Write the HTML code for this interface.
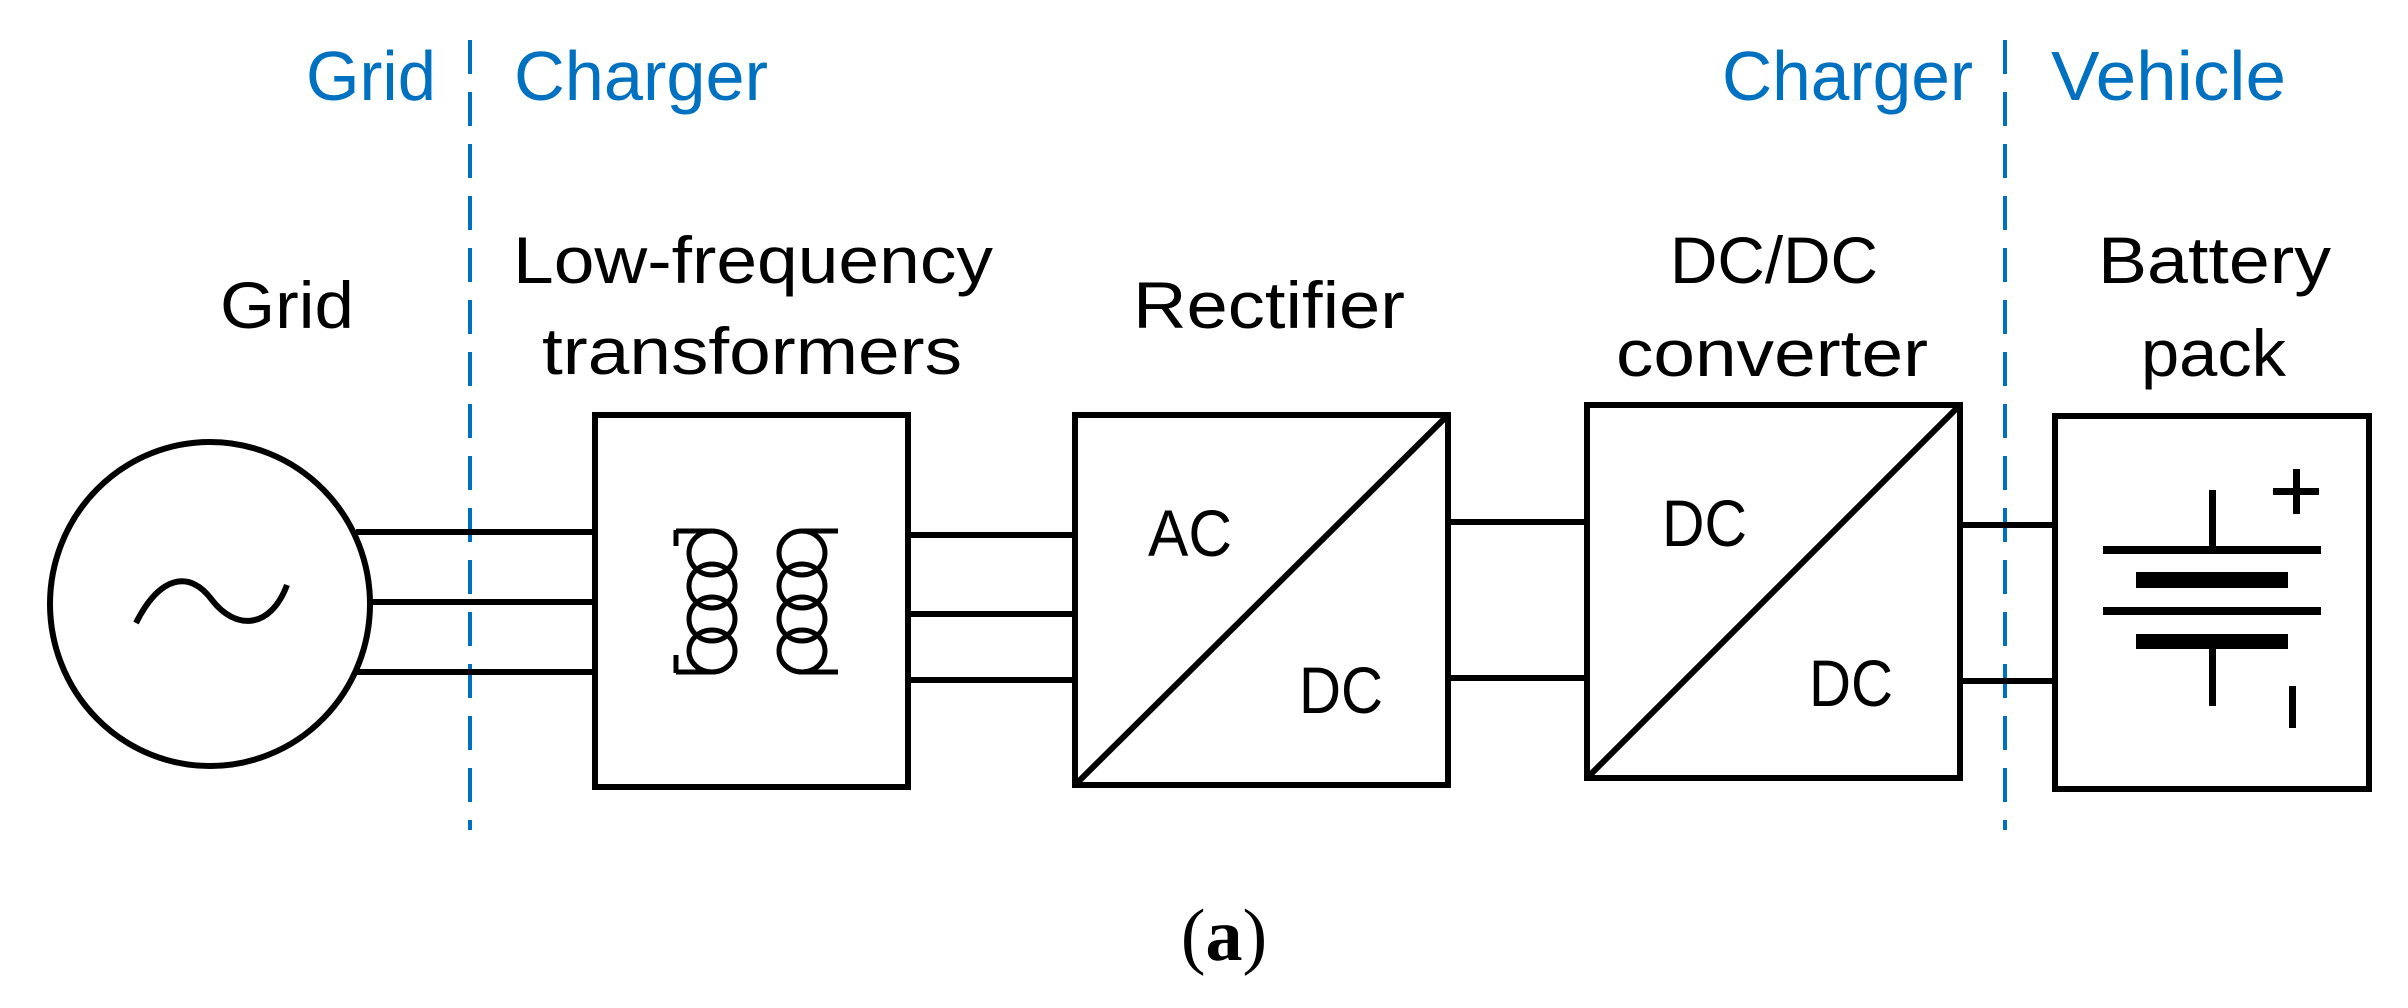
<!DOCTYPE html>
<html><head><meta charset="utf-8"><style>html,body{margin:0;padding:0;background:#fff}svg{display:block}</style></head>
<body>
<svg width="2408" height="1008" viewBox="0 0 2408 1008" xmlns="http://www.w3.org/2000/svg">
<g font-family="Liberation Sans, sans-serif" fill="#0070c0" font-size="70">
<text x="306" y="100" textLength="130" lengthAdjust="spacingAndGlyphs">Grid</text>
<text x="514" y="100" textLength="254" lengthAdjust="spacingAndGlyphs">Charger</text>
<text x="1722" y="100" textLength="251" lengthAdjust="spacingAndGlyphs">Charger</text>
<text x="2051" y="100" textLength="235" lengthAdjust="spacingAndGlyphs">Vehicle</text>
</g>
<g stroke="#0070c0" stroke-width="4" stroke-dasharray="34,18">
<line x1="470" y1="40" x2="470" y2="830"/>
<line x1="2005" y1="40" x2="2005" y2="830"/>
</g>
<g font-family="Liberation Sans, sans-serif" fill="#000" font-size="66">
<text x="220" y="328" textLength="134" lengthAdjust="spacingAndGlyphs">Grid</text>
<text x="513" y="283" textLength="480" lengthAdjust="spacingAndGlyphs">Low-frequency</text>
<text x="542" y="374" textLength="420" lengthAdjust="spacingAndGlyphs">transformers</text>
<text x="1133" y="328" textLength="272" lengthAdjust="spacingAndGlyphs">Rectifier</text>
<text x="1670" y="283" textLength="208" lengthAdjust="spacingAndGlyphs">DC/DC</text>
<text x="1616" y="376" textLength="312" lengthAdjust="spacingAndGlyphs">converter</text>
<text x="2098" y="283" textLength="233" lengthAdjust="spacingAndGlyphs">Battery</text>
<text x="2141" y="376" textLength="145" lengthAdjust="spacingAndGlyphs">pack</text>
<text x="1148" y="556" textLength="84" lengthAdjust="spacingAndGlyphs">AC</text>
<text x="1299" y="713" textLength="84" lengthAdjust="spacingAndGlyphs">DC</text>
<text x="1662" y="546" textLength="85" lengthAdjust="spacingAndGlyphs">DC</text>
<text x="1809" y="706" textLength="84" lengthAdjust="spacingAndGlyphs">DC</text>
</g>
<g stroke="#000" stroke-width="6" fill="none">
<ellipse cx="210" cy="604" rx="160" ry="162"/>
<path d="M136,623 C160,575 190,570 212,600 C235,630 270,630 287,585"/>
<line x1="356" y1="532" x2="595" y2="532"/>
<line x1="370" y1="602" x2="595" y2="602"/>
<line x1="356" y1="672" x2="595" y2="672"/>
<rect x="595" y="415" width="313" height="372"/>
<line x1="908" y1="535" x2="1075" y2="535"/>
<line x1="908" y1="614" x2="1075" y2="614"/>
<line x1="908" y1="680" x2="1075" y2="680"/>
<rect x="1075" y="415" width="373" height="370"/>
<line x1="1075" y1="785" x2="1448" y2="415"/>
<line x1="1448" y1="522" x2="1587" y2="522"/>
<line x1="1448" y1="678" x2="1587" y2="678"/>
<rect x="1587" y="405" width="373" height="373"/>
<line x1="1587" y1="778" x2="1960" y2="405"/>
<line x1="1960" y1="525" x2="2055" y2="525"/>
<line x1="1960" y1="681" x2="2055" y2="681"/>
<rect x="2055" y="416" width="314" height="373"/>
</g>
<g stroke="#000" stroke-width="5" fill="none">
<path d="M676,530 L676,546 M676,655 L676,673"/>
<path d="M676,531 L712,531 M676,672 L712,672"/>
<ellipse cx="712" cy="553" rx="23" ry="22"/>
<ellipse cx="712" cy="586" rx="23" ry="22"/>
<ellipse cx="712" cy="619" rx="23" ry="22"/>
<ellipse cx="712" cy="651" rx="23" ry="21"/>
<path d="M838,531 L802,531 M838,672 L802,672"/>
<ellipse cx="802" cy="553" rx="23" ry="22"/>
<ellipse cx="802" cy="586" rx="23" ry="22"/>
<ellipse cx="802" cy="619" rx="23" ry="22"/>
<ellipse cx="802" cy="651" rx="23" ry="21"/>
</g>
<g fill="#000">
<rect x="2209" y="490" width="7" height="59"/>
<rect x="2103" y="546" width="218" height="8"/>
<rect x="2136" y="572" width="152" height="16"/>
<rect x="2103" y="607" width="218" height="8"/>
<rect x="2136" y="634" width="152" height="15"/>
<rect x="2209" y="649" width="7" height="57"/>
<rect x="2293" y="469" width="7" height="45"/>
<rect x="2273" y="488" width="46" height="7"/>
<rect x="2289" y="686" width="7" height="42"/>
</g>
<text x="1224" y="960" text-anchor="middle" font-family="Liberation Serif, serif" font-size="74" fill="#000">(<tspan font-weight="bold">a</tspan>)</text>
</svg>
</body></html>
